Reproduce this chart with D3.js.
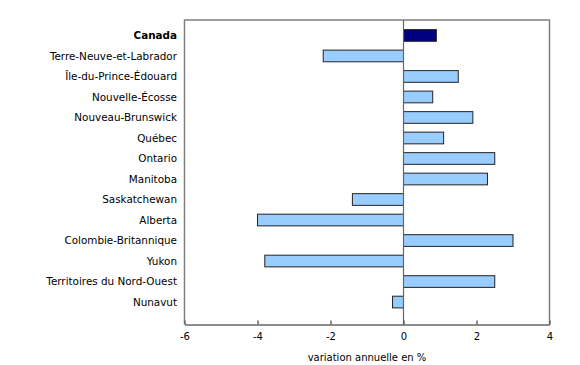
<!DOCTYPE html>
<html><head><meta charset="utf-8">
<script src="https://d3js.org/d3.v7.min.js"></script>
<style>body{margin:0;background:#fff}svg{display:block}</style>
</head><body>
<script>
const categories = ["Canada","Terre-Neuve-et-Labrador","Île-du-Prince-Édouard","Nouvelle-Écosse","Nouveau-Brunswick","Québec","Ontario","Manitoba","Saskatchewan","Alberta","Colombie-Britannique","Yukon","Territoires du Nord-Ouest","Nunavut"];
const values = [0.9,-2.2,1.5,0.8,1.9,1.1,2.5,2.3,-1.4,-4.0,3.0,-3.8,2.5,-0.3];
const xTicks = [-6,-4,-2,0,2,4];
const xTitle = "variation annuelle en %";

(function(){
const W=580,H=365;
const svg=d3.select("body").append("svg").attr("width",W).attr("height",H);
const pL=184.5,pR=549.5,pT=20,pB=324.5;
const FONT="DejaVu Sans, Verdana, sans-serif";
const x=d3.scaleLinear().domain([-6,4]).range([pL,pR]);
const y=d3.scaleBand().domain(categories).range([25.5,312]).paddingInner(0.43).paddingOuter(0.2);

// frame
svg.append("path").attr("d",`M${pL},${pB}V${pT}H${pR}V${pB}`)
  .attr("fill","none").attr("stroke","#808080").attr("stroke-width",1.5);

// bars
svg.append("g").selectAll("rect").data(values).join("rect")
  .attr("x",(d)=>x(Math.min(0,d)))
  .attr("y",(d,i)=>y(categories[i]))
  .attr("width",d=>Math.abs(x(d)-x(0)))
  .attr("height",y.bandwidth())
  .attr("fill",(d,i)=>i===0?"#000080":"#99ccff")
  .attr("stroke","#222")
  .attr("stroke-width",1);

// zero line
svg.append("line").attr("x1",x(0)).attr("x2",x(0)).attr("y1",pT).attr("y2",pB)
  .attr("stroke","#666").attr("stroke-width",1.2);

// x axis
const ax=svg.append("g").attr("transform",`translate(0,${pB})`)
  .call(d3.axisBottom(x).tickValues(xTicks).tickSizeInner(-4).tickSizeOuter(0).tickPadding(8.5)
    .tickFormat(d=>String(d)));
ax.select(".domain").attr("stroke","#666").attr("stroke-width",1.5);
ax.selectAll(".tick line").attr("stroke","#666").attr("stroke-width",1.5);
ax.selectAll("text").attr("font-family",FONT).attr("font-size",10).attr("fill","#000");

// y labels
svg.append("g").selectAll("text").data(categories).join("text")
  .attr("x",177).attr("y",d=>y(d)+y.bandwidth()/2).attr("dy","0.35em")
  .attr("text-anchor","end").attr("font-family",FONT)
  .attr("font-size",10.4).attr("font-weight",(d,i)=>i===0?"bold":"normal").text(d=>d);

svg.append("text").attr("x",(x(-6)+x(4))/2).attr("y",361).attr("text-anchor","middle")
  .attr("font-family",FONT).attr("font-size",10).text(xTitle);
})();
</script>
</body></html>
